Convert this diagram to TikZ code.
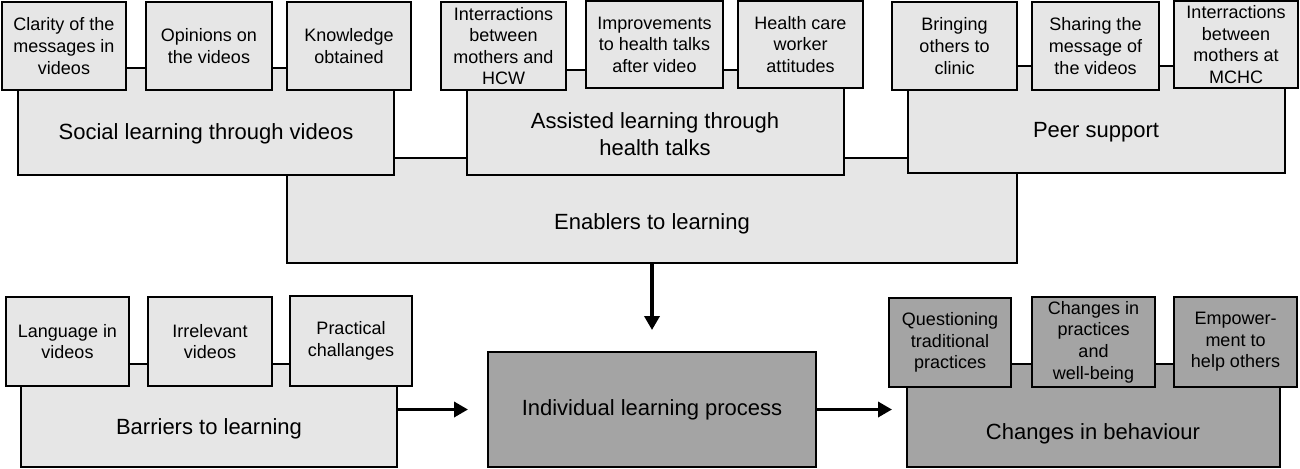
\documentclass[tikz,border=0pt]{standalone}
\usepackage{fontspec}
\setmainfont{Liberation Sans}
\usetikzlibrary{arrows.meta}
\definecolor{lightbox}{HTML}{E6E6E6}
\definecolor{darkbox}{HTML}{A4A4A4}
\tikzset{
  boxbase/.style={draw=black, line width=0.85pt, inner sep=0pt, outer sep=0pt, align=center},
  smallbox/.style={boxbase, fill=lightbox, font=\fontsize{9pt}{10.8pt}\selectfont},
  bigbox/.style={boxbase, fill=lightbox},
  smalldark/.style={boxbase, fill=darkbox, font=\fontsize{9pt}{10.8pt}\selectfont},
  bigdark/.style={boxbase, fill=darkbox, font=\fontsize{11pt}{13.2pt}\selectfont},
  bigtxt/.style={inner sep=0pt, align=center, font=\fontsize{11pt}{13.2pt}\selectfont},
  arr/.style={line width=1.8pt, -{Triangle[length=7pt,width=7.5pt]}}
}
\newcommand{\pbox}[7]{\node[#1, minimum width={(#5-#3)*0.5pt}, minimum height={(#6-#4)*0.5pt}] (#2) at ({(#3+#5)/2},{(#4+#6)/2}) {#7};}
\begin{document}
\begin{tikzpicture}[x=0.5pt,y=-0.5pt]
\useasboundingbox (0,0) rectangle (1300,468);
% enablers
\pbox{bigbox}{enablers}{287}{158}{1017}{263}{}
% big boxes top
\pbox{bigbox}{social}{18}{68}{394}{175}{}
\pbox{bigbox}{assisted}{467}{70}{844}{175}{}
\pbox{bigbox}{peer}{908}{66}{1285}{173}{}
% small boxes top
\pbox{smallbox}{clarity}{2}{2}{126}{90}{Clarity of the\\messages in\\videos}
\pbox{smallbox}{opinions}{146}{2}{272}{90}{Opinions on\\the videos}
\pbox{smallbox}{knowledge}{287}{2}{411}{90}{Knowledge\\obtained}
\pbox{smallbox}{interhcw}{441}{2}{566}{90}{Interractions\\between\\mothers and\\HCW}
\pbox{smallbox}{improve}{586}{1}{723}{88}{Improvements\\to health talks\\after video}
\pbox{smallbox}{hcwatt}{738}{1}{863}{88}{Health care\\worker\\attitudes}
\pbox{smallbox}{bringing}{892}{2}{1017}{90}{Bringing\\others to\\clinic}
\pbox{smallbox}{sharing}{1032}{2}{1159}{90}{Sharing the\\message of\\the videos}
\pbox{smallbox}{intermchc}{1174}{1}{1298}{88}{Interractions\\between\\mothers at\\MCHC}
% labels of big boxes
\node[bigtxt] (social-t) at (206,134) {Social learning through videos};
\node[bigtxt] (assisted-t) at (655,134) {Assisted learning through\\health talks};
\node[bigtxt] (peer-t) at (1096,132) {Peer support};
\node[bigtxt] (enablers-t) at (652,224) {Enablers to learning};
% bottom row
\pbox{bigbox}{barriers}{21}{364}{397}{467}{}
\pbox{smallbox}{language}{6}{297}{129}{386}{Language in\\videos}
\pbox{smallbox}{irrelevant}{148}{297}{272}{386}{Irrelevant\\videos}
\pbox{smallbox}{practical}{290}{296}{412}{386}{Practical\\challanges}
\node[bigtxt] (barriers-t) at (209,429) {Barriers to learning};
\pbox{bigdark}{individual}{488}{352}{816}{467}{Individual learning process}
\pbox{bigbox,fill=darkbox}{behaviour}{907}{364}{1280}{467}{}
\pbox{smalldark}{questioning}{889}{298}{1011}{387}{Questioning\\traditional\\practices}
\pbox{smalldark}{changespr}{1032}{297}{1155}{387}{Changes in\\practices\\and\\well-being}
\pbox{smalldark}{empower}{1174}{297}{1297}{387}{Empower-\\ment to\\help others}
\node[bigtxt] (behaviour-t) at (1093,434) {Changes in behaviour};
% arrows
\draw[arr] (enablers.south) -- ([yshift=11pt]individual.north);
\draw[arr] (barriers.east |- individual.west) -- ([xshift=-10pt]individual.west);
\draw[arr] (individual.east) -- ([xshift=-7.5pt]individual.east -| behaviour.west);
\end{tikzpicture}
\end{document}
